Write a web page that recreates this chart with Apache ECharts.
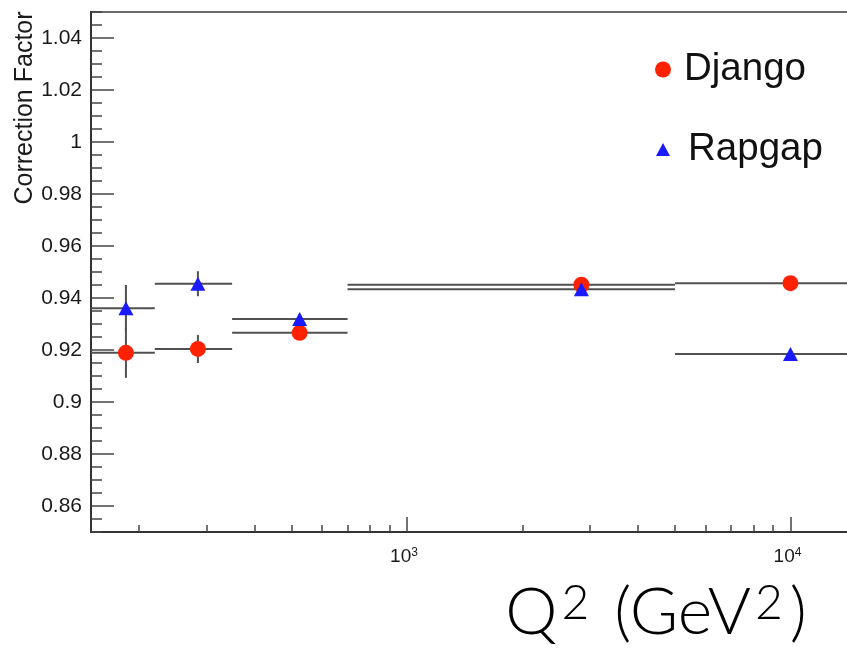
<!DOCTYPE html>
<html>
<head>
<meta charset="utf-8">
<script src="https://cdn.jsdelivr.net/npm/echarts@6/dist/echarts.min.js"></script>
<style>
html,body{margin:0;padding:0;background:#fff;}
#chart{width:847px;height:649px;}
</style>
</head>
<body>
<div id="chart"></div>
<script>
// ---- data ----
const binLow    = [150, 220, 350, 700, 5000];
const binHigh   = [220, 350, 700, 5000, 15000];
const binCenter = [185, 285, 525, 2850, 10000];
const djangoVal = [0.9189, 0.9204, 0.9266, 0.9451, 0.9457];
const djangoErr = [0.0096, 0.0054, 0.0020, 0.0015, 0.0015];
const rapgapVal = [0.9361, 0.9455, 0.9319, 0.9434, 0.9185];
const rapgapErr = [0.0089, 0.0048, 0.0020, 0.0015, 0.0015];
const yMajorTicks = [0.86, 0.88, 0.9, 0.92, 0.94, 0.96, 0.98, 1, 1.02, 1.04];
const xMajorTicks = [1000, 10000];
const xMinorTicks = [200, 300, 400, 500, 600, 700, 800, 900, 2000, 3000, 4000, 5000, 6000, 7000, 8000, 9000];
const xMin = 150, xMax = 15000, yMin = 0.85, yMax = 1.05;

const FONT = 'Liberation Sans';
const chart = echarts.init(document.getElementById('chart'), null, {renderer: 'canvas'});

function rows(vals, errs) {
  return binCenter.map((c, i) => [c, vals[i], binLow[i], binHigh[i], errs[i]]);
}
function errRender(params, api) {
  const xc = api.value(0), y = api.value(1), lo = api.value(2), hi = api.value(3), e = api.value(4);
  const pL = api.coord([lo, y]), pH = api.coord([hi, y]);
  const pT = api.coord([xc, y + e]), pB = api.coord([xc, y - e]);
  const st = {stroke: '#505050', lineWidth: 2};
  return {type: 'group', children: [
    {type: 'line', shape: {x1: pL[0], y1: pL[1], x2: pH[0], y2: pH[1]}, style: st},
    {type: 'line', shape: {x1: pT[0], y1: pT[1], x2: pB[0], y2: pB[1]}, style: st}
  ]};
}

const xBase = {
  type: 'log', logBase: 10, min: xMin, max: xMax, gridIndex: 0, position: 'bottom',
  splitLine: {show: false}, minorTick: {show: false}
};
const yBase = {
  type: 'value', min: yMin, max: yMax, gridIndex: 0, position: 'left',
  splitLine: {show: false}, minorTick: {show: false}
};

const option = {
  backgroundColor: '#fff',
  animation: false,
  grid: {left: 91, top: 12, width: 767, height: 520, show: true, borderColor: '#6a6a6a', borderWidth: 2,
         containLabel: false, outerBoundsMode: 'none'},
  xAxis: [
    Object.assign({}, xBase, {
      axisLine: {show: true, lineStyle: {color: '#333', width: 2}},
      axisTick: {show: true, inside: true, length: 15, customValues: xMajorTicks, lineStyle: {color: '#444', width: 1.5}},
      axisLabel: {show: true, customValues: xMajorTicks, margin: 15,
        formatter: v => '{b|10}{s|' + Math.round(Math.log10(v)) + '}',
        rich: {b: {fontFamily: FONT, fontSize: 19, color: '#1a1a1a'},
               s: {fontFamily: FONT, fontSize: 12, color: '#1a1a1a', verticalAlign: 'top', padding: [0, 6, 0, 0]}}}
    }),
    Object.assign({}, xBase, {
      axisLine: {show: false},
      axisTick: {show: true, inside: true, length: 7, customValues: xMinorTicks, lineStyle: {color: '#444', width: 1.5}},
      axisLabel: {show: false}
    })
  ],
  yAxis: [
    Object.assign({}, yBase, {
      interval: 0.005,
      axisLine: {show: true, lineStyle: {color: '#333', width: 2}},
      axisTick: {show: true, inside: true, length: 11, lineStyle: {color: '#444', width: 1.5}},
      axisLabel: {show: false}
    }),
    Object.assign({}, yBase, {
      axisLine: {show: false},
      axisTick: {show: true, inside: true, length: 23, customValues: yMajorTicks, lineStyle: {color: '#444', width: 1.5}},
      axisLabel: {show: true, customValues: yMajorTicks, margin: 9, fontFamily: FONT, fontSize: 21, color: '#1a1a1a'}
    })
  ],
  legend: [
    {data: [{name: 'Django', icon: 'circle'}], left: 655, top: 50, padding: 0, itemWidth: 16, itemHeight: 16,
     textStyle: {fontFamily: FONT, fontSize: 38.5, color: '#111', padding: [0, 0, 0, 8]}, selectedMode: false},
    {data: [{name: 'Rapgap', icon: 'triangle'}], left: 656, top: 130, padding: 0, itemWidth: 14, itemHeight: 13,
     textStyle: {fontFamily: FONT, fontSize: 38.5, color: '#111', padding: [0, 0, 0, 13]}, selectedMode: false}
  ],
  graphic: [
    {type: 'text', x: 25, y: 108, rotation: Math.PI / 2,
     style: {text: 'Correction Factor', fontFamily: FONT, fontSize: 25, fill: '#1a1a1a', align: 'center', verticalAlign: 'middle'}},
    {type: 'text', x: 656, y: 613,
     style: {text: '{m|Q}{s|2}{m| (GeV}{s|2}{m|)}', align: 'center', verticalAlign: 'middle',
       rich: {m: {fontFamily: 'Lato', fontSize: 66, fill: '#000', fontWeight: 300, padding: [0, 3, 0, 3]},
              s: {fontFamily: 'Lato', fontSize: 48, fill: '#000', fontWeight: 300, verticalAlign: 'top', padding: [0, 4, 0, 1]}}}}
  ],
  series: [
    {type: 'custom', name: 'DjangoErr', xAxisIndex: 0, yAxisIndex: 0, renderItem: errRender,
     data: rows(djangoVal, djangoErr), encode: {x: 0, y: 1}, z: 1, silent: true},
    {type: 'custom', name: 'RapgapErr', xAxisIndex: 0, yAxisIndex: 0, renderItem: errRender,
     data: rows(rapgapVal, rapgapErr), encode: {x: 0, y: 1}, z: 1, silent: true},
    {type: 'scatter', name: 'Django', xAxisIndex: 0, yAxisIndex: 0, symbol: 'circle', symbolSize: 16,
     itemStyle: {color: '#ff2200', opacity: 1}, data: binCenter.map((c, i) => [c, djangoVal[i]]), z: 3},
    {type: 'scatter', name: 'Rapgap', xAxisIndex: 0, yAxisIndex: 0, symbol: 'triangle', symbolSize: [15, 14],
     itemStyle: {color: '#1a1aff', opacity: 1}, data: binCenter.map((c, i) => [c, rapgapVal[i]]), z: 4}
  ]
};
chart.setOption(option);
</script>
</body>
</html>
